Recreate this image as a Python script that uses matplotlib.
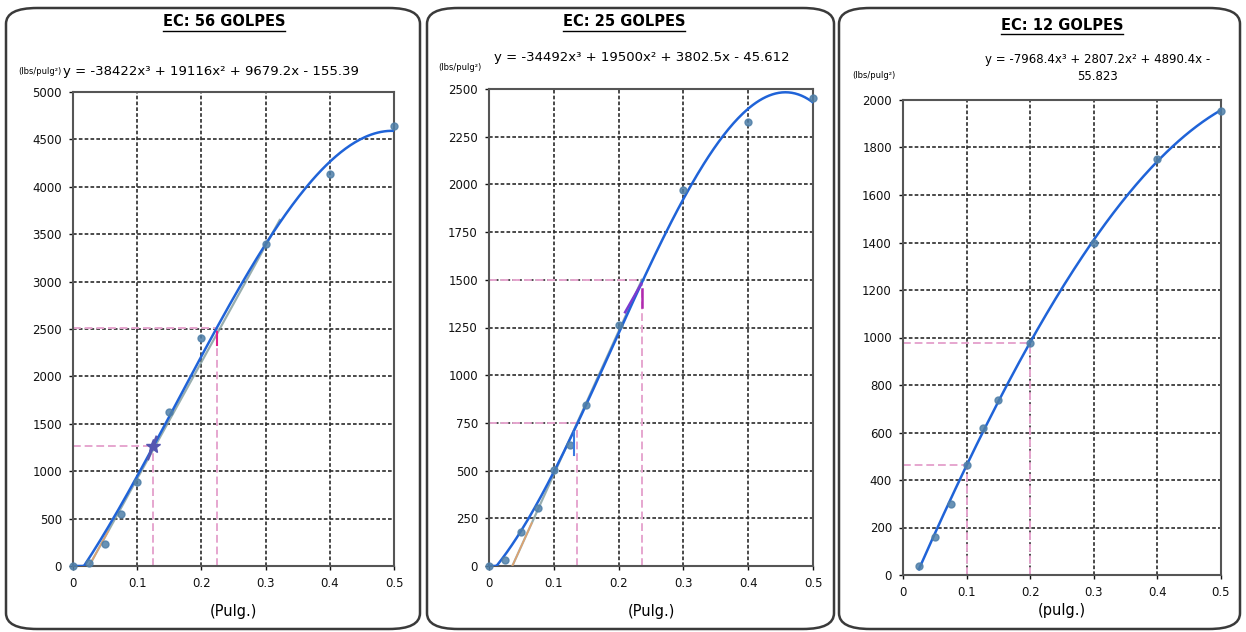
import numpy as np
import matplotlib
matplotlib.use("Agg")
import matplotlib.pyplot as plt
from matplotlib.patches import FancyBboxPatch
from matplotlib.lines import Line2D

plt.rcParams['font.family'] = ['DejaVu Sans']

# ---------------- data ----------------
titles = ["EC: 56 GOLPES", "EC: 25 GOLPES", "EC: 12 GOLPES"]
equations = [
    "y = -38422x³ + 19116x² + 9679.2x - 155.39",
    "y = -34492x³ + 19500x² + 3802.5x - 45.612",
    "y = -7968.4x³ + 2807.2x² + 4890.4x -\n55.823",
]
xlabels = ["(Pulg.)", "(Pulg.)", "(pulg.)"]
ylabel = "(lbs/pulg²)"

x_ticks = [0, 0.1, 0.2, 0.3, 0.4, 0.5]
x_ticklabels = ["0", "0.1", "0.2", "0.3", "0.4", "0.5"]
y_ticks_56 = [0, 500, 1000, 1500, 2000, 2500, 3000, 3500, 4000, 4500, 5000]
y_ticks_25 = [0, 250, 500, 750, 1000, 1250, 1500, 1750, 2000, 2250, 2500]
y_ticks_12 = [0, 200, 400, 600, 800, 1000, 1200, 1400, 1600, 1800, 2000]

# penetration (pulg.) and load (lbs/pulg2)
pen_56 = [0, 0.025, 0.05, 0.075, 0.1, 0.15, 0.2, 0.3, 0.4, 0.5]
load_56 = [0, 30, 230, 550, 886, 1625, 2405, 3400, 4130, 4645]
pen_25 = [0, 0.025, 0.05, 0.075, 0.1, 0.125, 0.15, 0.2, 0.3, 0.4, 0.5]
load_25 = [0, 31, 178, 304, 503, 634, 844, 1263, 1970, 2327, 2453]
pen_12 = [0.025, 0.05, 0.075, 0.1, 0.125, 0.15, 0.2, 0.3, 0.4, 0.5]
load_12 = [38, 160, 300, 465, 620, 735, 977, 1398, 1752, 1955]

# corrected readings (pen, load) shown with pink dashed guides
corr_56 = [(0.125, 1265), (0.225, 2515)]
corr_25 = [(0.136, 750), (0.236, 1500)]
corr_12 = [(0.1, 465), (0.2, 975)]

# tangent correction lines: ([x start, x end], [y start, y end])
tan_56 = ([0.025, 0.322], [0, 3650])
tan_25 = ([0.036, 0.236], [0, 1500])

panels = [
    dict(pen=pen_56, load=load_56, yt=y_ticks_56, corr=corr_56, tan=tan_56),
    dict(pen=pen_25, load=load_25, yt=y_ticks_25, corr=corr_25, tan=tan_25),
    dict(pen=pen_12, load=load_12, yt=y_ticks_12, corr=corr_12, tan=None),
]

W, H = 1246, 632
fig = plt.figure(figsize=(W / 100, H / 100), dpi=100)
fig.patch.set_facecolor("white")

def fx(px):
    return px / W

def fy(py):
    return 1 - py / H

# panel boxes (pixels: left, top, right, bottom)
boxes = [(6, 8, 420, 629), (427, 8, 834, 629), (839, 8, 1240, 629)]
for (l, t, r, b) in boxes:
    fig.patches.append(FancyBboxPatch((fx(l), fy(b)), fx(r - l), (b - t) / H,
                                      boxstyle="round,pad=0,rounding_size=0.025",
                                      transform=fig.transFigure, fill=False,
                                      edgecolor="#3a3a3a", linewidth=1.8))

# axes rectangles (pixels: left, top, right, bottom)
ax_px = [(73, 92, 394, 566), (489, 89, 813, 566), (903, 100, 1221, 575)]
xlabel_pads = [10, 10, 3]

blue = "#1f63d8"
mark = "#4f7fa8"
pink = "#e6a6cf"
gridc = "#2b2b2b"

axes = []
for i, (p, (l, t, r, b)) in enumerate(zip(panels, ax_px)):
    ax = fig.add_axes([fx(l), fy(b), fx(r - l), (b - t) / H])
    axes.append(ax)
    ymax = p["yt"][-1]
    ax.set_xlim(0, 0.5)
    ax.set_ylim(0, ymax)
    ax.set_xticks(x_ticks)
    ax.set_xticklabels(x_ticklabels)
    ax.set_yticks(p["yt"])
    ax.tick_params(labelsize=8.5, length=3, width=1, colors="#111111", pad=5)
    ax.grid(True, color=gridc, linestyle=(0, (2.2, 1.3)), linewidth=1.2)
    ax.set_axisbelow(True)
    for s in ax.spines.values():
        s.set_color("#555555")
        s.set_linewidth(1.5)

    # pink guide lines for corrected readings
    for (cx, cy) in p["corr"]:
        ax.plot([0, cx], [cy, cy], color=pink, lw=1.4, ls=(0, (4, 2)), zorder=2)
        ax.plot([cx, cx], [0, cy], color=pink, lw=1.4, ls=(0, (4, 2)), zorder=2)

    # tangent correction line
    if p["tan"] is not None:
        tx, ty = p["tan"]
        ax.plot(tx, ty, color="#7f9a9a", lw=1.6, alpha=0.8, zorder=3)
        ax.plot([tx[0], tx[0] + 0.03], [0, ty[1] * 0.03 / (tx[1] - tx[0])],
                color="#f0a060", lw=1.2, alpha=0.8, zorder=3)

    # cubic trendline fitted through the points
    xs = np.array(p["pen"])
    ys = np.array(p["load"])
    coef = np.polyfit(xs, ys, 3)
    xx = np.linspace(xs.min() if xs.min() > 0 else 0.0, 0.5, 200)
    yy = np.polyval(coef, xx)
    ax.plot(xx, np.clip(yy, 0, None), color=blue, lw=1.8, zorder=4)

    # data points
    ax.plot(xs, ys, ls="none", marker="o", ms=5, color=mark, alpha=0.85, zorder=5,
            clip_on=False)

    ax.set_xlabel(xlabels[i], fontsize=10.5, labelpad=xlabel_pads[i])

# small highlight marks from the correction procedure
axes[0].plot([0.125], [1265], marker="*", ms=10, color="#5556b0", ls="none", zorder=6)
axes[0].plot([0.117, 0.13], [1130, 1360], color="#5556b0", lw=2, zorder=6)
axes[0].plot([0.225, 0.225], [2330, 2470], color="#e0208a", lw=1.5, zorder=6)
axes[1].plot([0.21, 0.235], [1330, 1480], color="#7a3bd0", lw=1.8, zorder=6)
axes[1].plot([0.236, 0.236], [1360, 1450], color="#b02ab0", lw=1.8, zorder=6)
axes[1].plot([0.131, 0.131], [580, 700], color="#3a7ae0", lw=1.5, zorder=6)

# titles
title_pos = [(224, 22), (624, 22), (1062, 25)]
tnodes = []
for (tx, ty), t in zip(title_pos, titles):
    tnodes.append(fig.text(fx(tx), fy(ty), t, ha="center", va="center",
                           fontsize=10.5, fontweight="bold"))

# y labels and equations
fig.text(fx(18), fy(71), ylabel, fontsize=6, ha="left", va="center")
fig.text(fx(63), fy(71), equations[0], fontsize=9.5, ha="left", va="center")
fig.text(fx(438), fy(68), ylabel, fontsize=6, ha="left", va="center")
fig.text(fx(494), fy(58), equations[1], fontsize=9.5, ha="left", va="center")
fig.text(fx(852), fy(76), ylabel, fontsize=6, ha="left", va="center")
fig.text(fx(1098), fy(68), equations[2], fontsize=8.5, ha="center", va="center",
         linespacing=1.5)

# underline titles
fig.canvas.draw()
r = fig.canvas.get_renderer()
for tn in tnodes:
    bb = tn.get_window_extent(renderer=r)
    yline = (bb.y0 - 1) / H
    fig.add_artist(Line2D([bb.x0 / W, bb.x1 / W], [yline, yline],
                          transform=fig.transFigure, color="black", lw=1))

fig.savefig("out.png", dpi=100, facecolor="white")
